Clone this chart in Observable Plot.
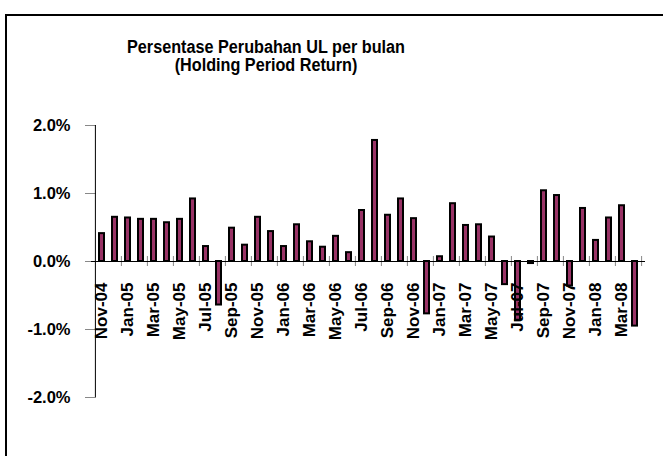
<!DOCTYPE html>
<html>
<head>
<meta charset="utf-8">
<script src="https://cdn.jsdelivr.net/npm/d3@7"></script>
<script src="https://cdn.jsdelivr.net/npm/@observablehq/plot@0.6"></script>
<style>
  html, body { margin: 0; padding: 0; background: #fff; }
  #wrap { position: relative; width: 663px; height: 456px; overflow: hidden; font-family: "Liberation Sans", Arial, sans-serif; }
  #frame { position: absolute; left: 5px; top: 14px; width: 720px; height: 520px; border: 2px solid #000; box-sizing: border-box; }
  #title { position: absolute; left: 46px; width: 440px; top: 38px; text-align: center; font-weight: bold; font-size: 18px; line-height: 18px; color: #000; transform: scaleX(0.9); transform-origin: 50% 50%; }
  #chart { position: absolute; left: 0; top: 0; }
</style>
</head>
<body>
<div id="wrap">
  <div id="frame"></div>
  <div id="title">Persentase Perubahan UL per bulan<br>(Holding Period Return)</div>
  <div id="chart"></div>
</div>
<script>
const months = ["Nov-04","Dec-04","Jan-05","Feb-05","Mar-05","Apr-05","May-05","Jun-05","Jul-05","Aug-05","Sep-05","Oct-05","Nov-05","Dec-05",
  "Jan-06","Feb-06","Mar-06","Apr-06","May-06","Jun-06","Jul-06","Aug-06","Sep-06","Oct-06","Nov-06","Dec-06",
  "Jan-07","Feb-07","Mar-07","Apr-07","May-07","Jun-07","Jul-07","Aug-07","Sep-07","Oct-07","Nov-07","Dec-07",
  "Jan-08","Feb-08","Mar-08","Apr-08"];
const values = [0.41,0.65,0.64,0.62,0.62,0.57,0.62,0.92,0.22,-0.64,0.49,0.24,0.65,0.44,
  0.22,0.54,0.29,0.21,0.37,0.13,0.75,1.78,0.68,0.92,0.63,-0.77,
  0.07,0.85,0.53,0.54,0.36,-0.34,-0.87,-0.03,1.04,0.97,-0.36,0.78,
  0.31,0.64,0.82,-0.95];
const tickLabels = ["Nov-04","Jan-05","Mar-05","May-05","Jul-05","Sep-05","Nov-05","Jan-06","Mar-06","May-06","Jul-06","Sep-06","Nov-06",
  "Jan-07","Mar-07","May-07","Jul-07","Sep-07","Nov-07","Jan-08","Mar-08"];
const yTicks = [-2, -1, 0, 1, 2];

const data = months.map((m, i) => ({month: m, value: values[i]}));

const W = 663, H = 456, ML = 91, MR = 18, MT = 125, MB = 59;
const plotW = W - ML - MR;
const step = plotW / months.length;
const pxPerUnit = (H - MT - MB) / 4;
const tickHalf = 5 / pxPerUnit;
// x tick marks sit at category boundaries every two categories
const boundaryCats = tickLabels.slice(1);

const chart = Plot.plot({
  width: W, height: H,
  marginLeft: ML, marginRight: MR, marginTop: MT, marginBottom: MB,
  style: {fontFamily: "'Liberation Sans', Arial, sans-serif", background: "transparent", overflow: "visible"},
  x: {type: "band", domain: months, padding: 0.6, align: 0.5, axis: null},
  y: {domain: [-2, 2], axis: null},
  marks: [
    Plot.tickY(yTicks, {y: d => d, insetLeft: -6, insetRight: plotW - 5, stroke: "#888"}),
    Plot.text(yTicks, {y: d => d, frameAnchor: "left", dx: -21, textAnchor: "end", text: d => d.toFixed(1) + "%", fontSize: 16.5, fontWeight: "bold", fill: "#000"}),
    Plot.ruleX([months[0]], {x: d => d, y1: -2, y2: 2, dx: -step / 2, stroke: "#000"}),
    Plot.ruleX(boundaryCats, {x: d => d, y1: -tickHalf, y2: tickHalf, dx: -step / 2, stroke: "#888"}),
    Plot.ruleX([months[months.length - 1]], {x: d => d, y1: -tickHalf, y2: tickHalf, dx: step / 2, stroke: "#888"}),
    Plot.barY(data, {x: "month", y: "value", fill: "#993366", stroke: "#000", strokeWidth: 2}),
    Plot.ruleY([0], {stroke: "#000"}),
    Plot.text(tickLabels, {x: d => d, y: 0, text: d => d, rotate: -90, textAnchor: "end", dy: 21, fontSize: 17, fontWeight: "bold", fill: "#000"})
  ]
});
document.getElementById("chart").appendChild(chart);
</script>
</body>
</html>
